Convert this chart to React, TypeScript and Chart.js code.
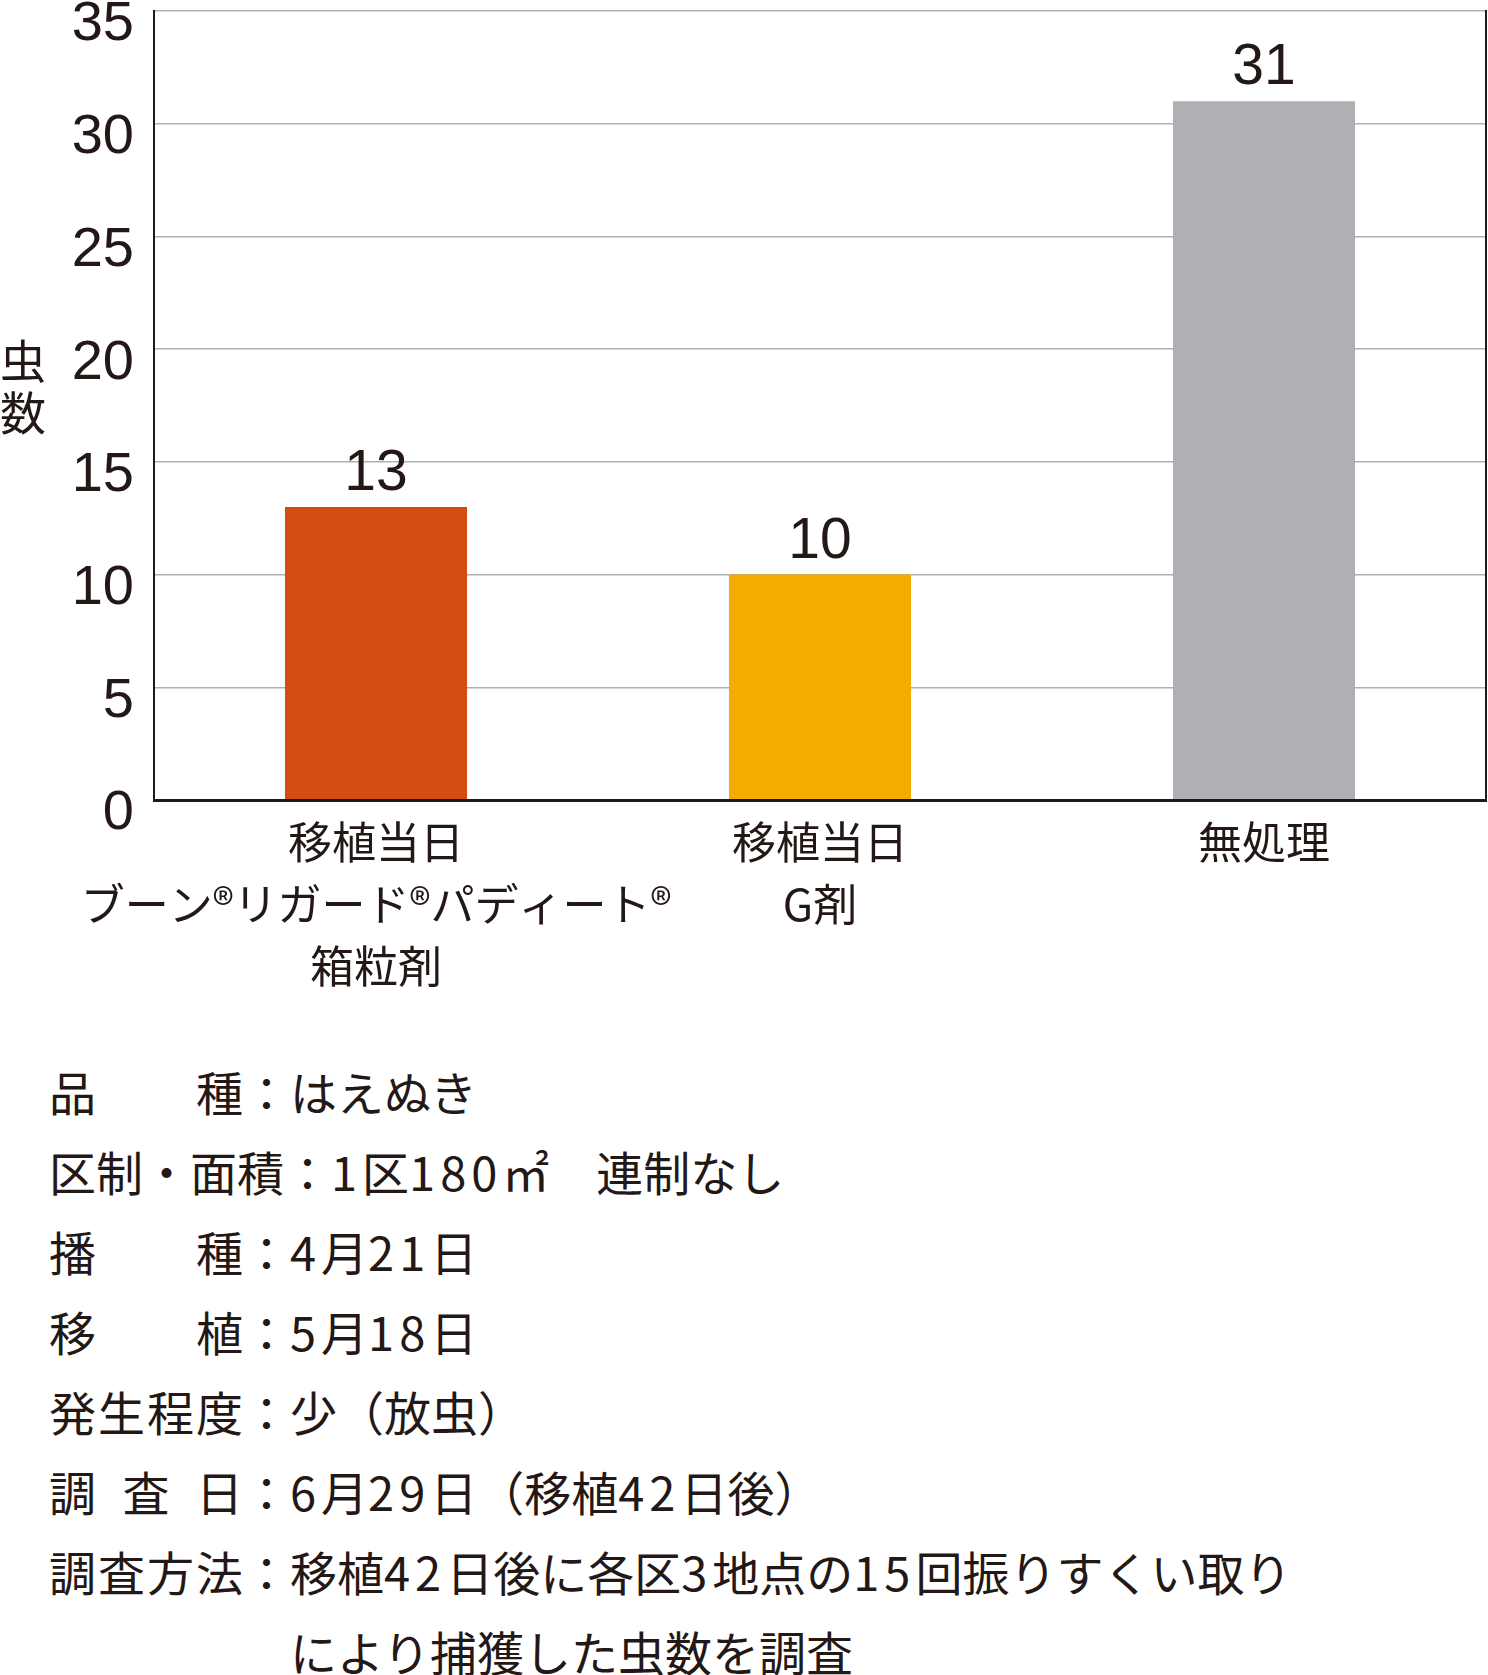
import React, { useEffect, useRef } from 'react';
import { Chart, registerables } from 'chart.js';

Chart.register(...registerables);

// ---- data ----
const categories: string[][] = [
  ['移植当日', 'ブーン®リガード®パディート®', '箱粒剤'],
  ['移植当日', 'G剤'],
  ['無処理'],
];
const values: number[] = [13, 10, 31];
const barColors: string[] = ['#D24D12', '#F4AC00', '#AEB0B3'];
const yTicks: number[] = [0, 5, 10, 15, 20, 25, 30, 35];
const yTitle: string[] = ['虫', '数'];
const noteLabels: string[] = ['品種', '区制・面積', '播種', '移植', '発生程度', '調査日', '調査方法'];
const noteValues: string[] = [
  'はえぬき',
  '1区180㎡　連制なし',
  '4月21日',
  '5月18日',
  '少（放虫）',
  '6月29日（移植42日後）',
  '移植42日後に各区3地点の15回振りすくい取り',
];
const noteContinuation = 'により捕獲した虫数を調査';

const INK = '#231815';
const JP = '"Noto Sans CJK JP", "Noto Sans", sans-serif';
const NUM = '"Liberation Sans", Arial, sans-serif';

const valueLabelPlugin = {
  id: 'valueLabels',
  afterDatasetsDraw(chart: any) {
    const meta = chart.getDatasetMeta(0);
    const ctx = chart.ctx;
    ctx.save();
    ctx.font = `57px ${NUM}`;
    ctx.fillStyle = INK;
    ctx.textAlign = 'center';
    ctx.textBaseline = 'alphabetic';
    meta.data.forEach((el: any, i: number) => {
      ctx.fillText(String(values[i]), el.x, el.y - 17);
    });
    ctx.restore();
  },
};

function withDigits(s: string) {
  return s.split(/(\d+)/).map((part, i) =>
    /^\d+$/.test(part) ? (
      <span key={i} style={{ letterSpacing: '5px' }}>{part}</span>
    ) : (
      <span key={i}>{part}</span>
    )
  );
}

function NoteLabel({ text }: { text: string }) {
  return (
    <span
      style={{
        display: 'inline-flex',
        justifyContent: 'space-between',
        minWidth: 194,
        whiteSpace: 'nowrap',
      }}
    >
      {Array.from(text).map((c, i) => (
        <span key={i}>{c}</span>
      ))}
    </span>
  );
}

export default function App() {
  const canvasRef = useRef<HTMLCanvasElement | null>(null);

  useEffect(() => {
    if (!canvasRef.current) return;
    const chart = new Chart(canvasRef.current, {
      type: 'bar',
      data: {
        labels: categories,
        datasets: [
          {
            data: values,
            backgroundColor: barColors,
            borderWidth: 0,
            categoryPercentage: 1,
            barPercentage: 0.41,
          },
        ],
      },
      options: {
        animation: false,
        responsive: false,
        devicePixelRatio: 1,
        layout: {
          autoPadding: false,
          padding: { top: 11, right: 2, bottom: 0, left: 0 },
        },
        plugins: {
          legend: { display: false },
          tooltip: { enabled: false },
        },
        scales: {
          x: {
            grid: { display: false, drawTicks: false },
            border: { display: true, color: INK, width: 3, z: 1 },
            ticks: {
              color: INK,
              padding: 11,
              maxRotation: 0,
              autoSkip: false,
              font: { family: JP, size: 44, lineHeight: '62px' },
            },
            afterFit: (s: any) => {
              s.height = 200;
              s.paddingLeft = 0;
              s.paddingRight = 0;
            },
          },
          y: {
            min: 0,
            max: 35,
            grid: { color: '#B0B0B0', lineWidth: 1.5, drawTicks: false },
            border: { display: true, color: INK, width: 2, z: 1 },
            ticks: {
              color: INK,
              padding: 20,
              labelOffset: 14,
              font: { family: NUM, size: 56 },
            },
            afterBuildTicks: (s: any) => {
              s.ticks = yTicks.map((v) => ({ value: v }));
            },
            afterFit: (s: any) => {
              s.width = 154;
              s.paddingTop = 0;
              s.paddingBottom = 0;
            },
          },
          y2: {
            position: 'right',
            grid: { display: false, drawTicks: false },
            ticks: { display: false },
            border: { display: true, color: INK, width: 2 },
            afterFit: (s: any) => {
              s.width = 0;
              s.paddingTop = 0;
              s.paddingBottom = 0;
            },
          },
        },
      },
      plugins: [valueLabelPlugin],
    } as any);
    return () => chart.destroy();
  }, []);

  return (
    <div
      style={{
        position: 'absolute',
        top: 0,
        left: 0,
        width: 1488,
        height: 1675,
        background: '#fff',
        color: INK,
        fontFamily: JP,
        overflow: 'hidden',
      }}
    >
      <canvas
        ref={canvasRef}
        width={1488}
        height={1000}
        style={{ position: 'absolute', left: 0, top: 0, width: 1488, height: 1000 }}
      />
      <div
        style={{
          position: 'absolute',
          left: 0,
          top: 332,
          fontSize: 46,
          lineHeight: '52px',
          width: 50,
        }}
      >
        {yTitle.map((c, i) => (
          <div key={i}>{c}</div>
        ))}
      </div>
      <div
        style={{
          position: 'absolute',
          left: 49,
          top: 1051,
          fontSize: 47,
          lineHeight: '80px',
          whiteSpace: 'nowrap',
        }}
      >
        {noteLabels.map((lab, i) => (
          <div key={i} style={{ height: 80 }}>
            <NoteLabel text={lab} />
            <span>：</span>
            <span>{withDigits(noteValues[i])}</span>
          </div>
        ))}
        <div style={{ height: 80, paddingLeft: 241 }}>{withDigits(noteContinuation)}</div>
      </div>
    </div>
  );
}
